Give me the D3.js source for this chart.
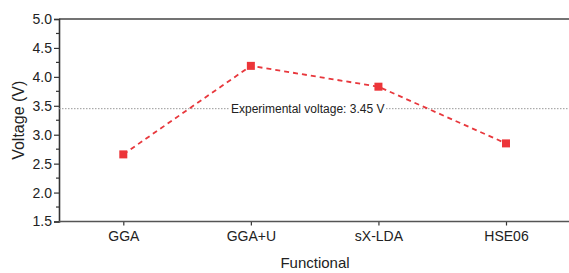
<!DOCTYPE html>
<html>
<head>
<meta charset="utf-8">
<script src="https://cdn.jsdelivr.net/npm/d3@7"></script>
<style>
  body { margin: 0; background: #fff; }
  text { font-family: "Liberation Sans", Arial, sans-serif; fill: #222; }
</style>
</head>
<body>
<svg id="chart" width="569" height="273"></svg>
<script>
const functionals = ['GGA', 'GGA+U', 'sX-LDA', 'HSE06']
const voltages = [2.66, 4.19, 3.83, 2.85]
const experimental = 3.45
const yTicks = [1.5, 2.0, 2.5, 3.0, 3.5, 4.0, 4.5, 5.0]

const svg = d3.select('#chart')
const plotLeft = 59, plotRight = 569, plotTop = 19, plotBottom = 221.5

const x = d3.scalePoint().domain(functionals).range([123.3, 506]).padding(0)
const y = d3.scaleLinear().domain([1.5, 5.0]).range([plotBottom, plotTop])

// frame: top line runs to the edge
svg.append('line').attr('x1', plotLeft).attr('x2', plotRight).attr('y1', plotTop).attr('y2', plotTop)
  .attr('stroke', '#444').attr('stroke-width', 1.6)

// minor y ticks
const minor = d3.range(1.5, 5.0001, 0.25).filter((d, i) => i % 2 === 1)
svg.append('g').selectAll('line').data(minor).join('line')
  .attr('x1', plotLeft - 3).attr('x2', plotLeft)
  .attr('y1', d => y(d)).attr('y2', d => y(d))
  .attr('stroke', '#333').attr('stroke-width', 1.2)

const yAxis = svg.append('g').attr('transform', `translate(${plotLeft},0)`)
  .call(d3.axisLeft(y).tickValues(yTicks).tickFormat(d3.format('.1f')).tickSize(5).tickPadding(2))
yAxis.select('.domain').attr('stroke', '#333').attr('stroke-width', 1.6)
yAxis.selectAll('.tick line').attr('stroke', '#333').attr('stroke-width', 1.2)
yAxis.selectAll('text').attr('font-size', 14).attr('fill', '#222')
  .attr('font-family', '"Liberation Sans", Arial, sans-serif')

const xAxis = svg.append('g').attr('transform', `translate(0,${plotBottom})`)
  .call(d3.axisBottom(x).tickSize(4).tickPadding(6))
xAxis.select('.domain').remove()
svg.append('line').attr('x1', plotLeft).attr('x2', plotRight).attr('y1', plotBottom).attr('y2', plotBottom)
  .attr('stroke', '#555').attr('stroke-width', 1.6)
xAxis.selectAll('.tick line').attr('stroke', '#333').attr('stroke-width', 1.2)
xAxis.selectAll('text').attr('font-size', 14).attr('fill', '#222')
  .attr('font-family', '"Liberation Sans", Arial, sans-serif')

// experimental reference line
svg.append('line')
  .attr('x1', plotLeft).attr('x2', plotRight)
  .attr('y1', y(experimental)).attr('y2', y(experimental))
  .attr('stroke', '#999').attr('stroke-width', 1).attr('stroke-dasharray', '1.5,1.5')
svg.append('rect').attr('x', 229).attr('y', y(experimental) - 8).attr('width', 157).attr('height', 16).attr('fill', '#fff')
svg.append('text').attr('x', 231).attr('y', y(experimental) + 4.5)
  .attr('font-size', 12).text(`Experimental voltage: ${experimental} V`)

// series
const pts = functionals.map((f, i) => [x(f), y(voltages[i])])
svg.append('path').attr('d', d3.line()(pts))
  .attr('fill', 'none').attr('stroke', '#e8383d').attr('stroke-width', 1.8)
  .attr('stroke-dasharray', '5,4')
svg.append('g').selectAll('rect').data(pts).join('rect')
  .attr('x', d => d[0] - 4).attr('y', d => d[1] - 4)
  .attr('width', 8).attr('height', 8).attr('fill', '#ec3539')

// axis titles
svg.append('text').attr('x', 315).attr('y', 268).attr('text-anchor', 'middle')
  .attr('font-size', 15).text('Functional')
svg.append('text').attr('transform', `translate(24,${(plotTop + plotBottom) / 2}) rotate(-90)`)
  .attr('text-anchor', 'middle').attr('font-size', 16).text('Voltage (V)')
</script>
</body>
</html>
